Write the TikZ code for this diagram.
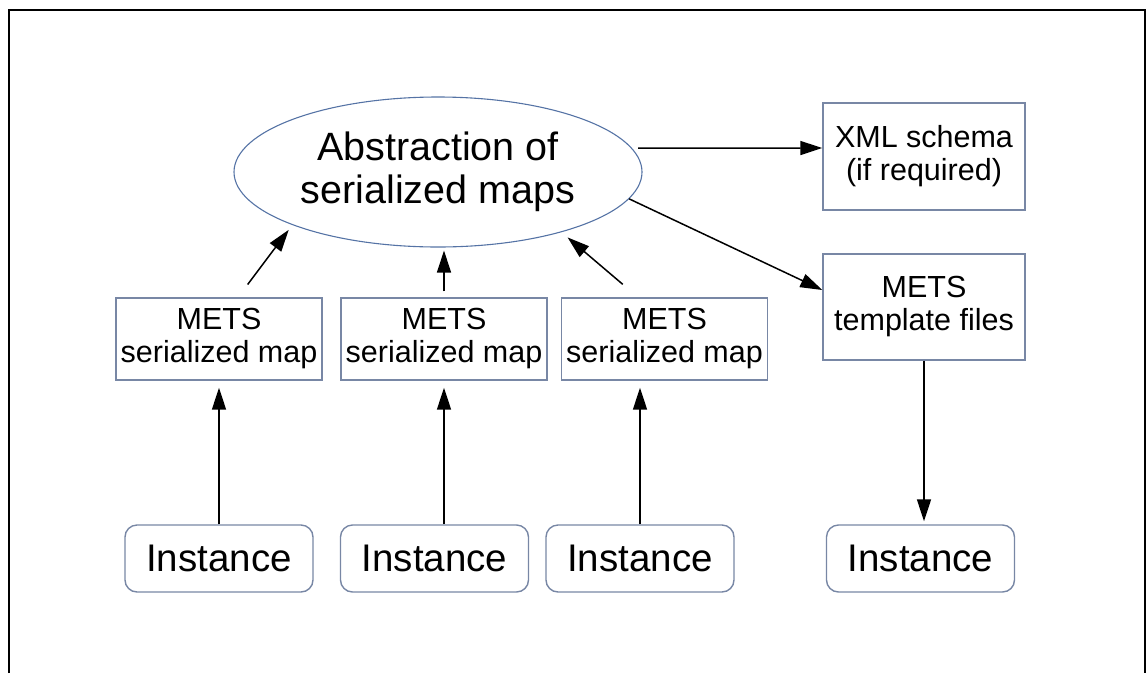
\documentclass[tikz,border=0pt]{standalone}
\usepackage{fontspec}
\setmainfont{Liberation Sans}
\usetikzlibrary{arrows.meta,shapes.geometric}
\definecolor{boxline}{RGB}{120,135,165}
\definecolor{ellline}{RGB}{85,115,165}
\begin{document}
\begin{tikzpicture}[x = 1pt, y = -1pt,
        mapbox/.style = {draw = boxline, line width = 1.4pt, fill = white, minimum width = 206pt, minimum height = 82pt, inner sep = 0pt, align = center, font = \fontsize{30.5}{33}\selectfont},
        instbox/.style = {draw = boxline, line width = 1.4pt, rounded corners = 12pt, minimum width = 188pt, minimum height = 67pt, inner sep = 0pt, font = \fontsize{38.5}{40}\selectfont},
        arr/.style = {-{Triangle[length = 22pt, width = 14pt]}, line width = 1.5pt}]
                \useasboundingbox (0, 0) rectangle (1146, 673);
                \draw[line width = 2pt] (9, 673) -- (9, 10) -- (1145, 10) -- (1145, 673);
                \node[ellipse, draw = ellline, line width = 1.1pt, minimum width = 408pt, minimum height = 150pt, inner sep = 0pt, align = center, font = \fontsize{39.5}{43}\selectfont] (abstr) at (438, 172) {Abstraction of\\serialized maps};
                \node[mapbox] (map1) at (219, 339) {METS\\serialized map};
                \node[mapbox] (map2) at (444, 339) {METS\\serialized map};
                \node[mapbox] (map3) at (664.5, 339) {METS\\serialized map};
                \node[mapbox, minimum width = 202pt, minimum height = 107pt] (schema) at (924, 156.5) {XML schema\\(if required)};
                \node[mapbox, minimum width = 202pt, minimum height = 106pt] (templ) at (924, 307) {METS\\template files};
                \node[instbox] (inst1) at (219, 558.5) {Instance};
                \node[instbox] (inst2) at (434.5, 558.5) {Instance};
                \node[instbox] (inst3) at (640, 558.5) {Instance};
                \node[instbox] (inst4) at (920.5, 558.5) {Instance};
                \draw[arr, shorten <= 16pt, shorten >= 6pt] ([xshift = 19pt]map1.north) -- (abstr.200);
                \draw[arr, shorten <= 6pt, shorten >= 3pt] (map2.north) -- (map2.north |- abstr.south);
                \draw[arr, shorten <= 20pt, shorten >= 8pt] ([xshift = -26.5pt]map3.north) -- (abstr.334);
                \draw[arr, shorten <= 6pt] (abstr.7) -- ([yshift = 8.5pt]schema.west);
                \draw[arr] (abstr.352) -- ([yshift = 17pt]templ.west);
                \draw[arr, shorten >= 3pt] (templ.south) -- (templ.south |- inst4.north);
                \draw[arr, shorten >= 7pt] (inst1.north) -- (map1.south);
                \draw[arr, shorten >= 7pt] (map2.south |- inst2.north) -- (map2.south);
                \draw[arr, shorten >= 7pt] (inst3.north) -- (inst3.north |- map3.south);
            \end{tikzpicture}
\end{document}
